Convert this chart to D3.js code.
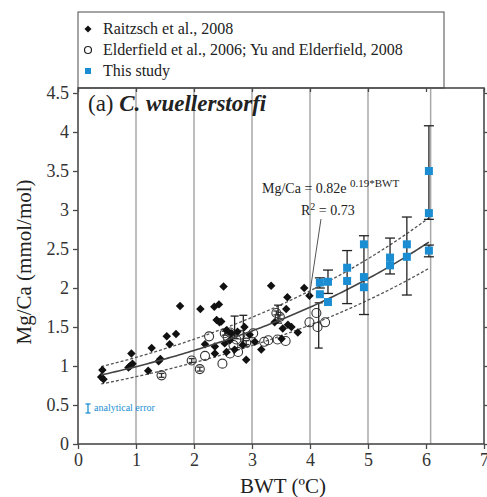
<!DOCTYPE html>
<html lang="en">
<head>
<meta charset="UTF-8">
<title>Mg/Ca vs BWT</title>
<script src="https://cdn.jsdelivr.net/npm/d3@7"></script>
<style>
    body { margin: 0; background: #fff; }
    svg { font-family: "Liberation Serif", "Times New Roman", serif; }
</style>
</head>
<body>
<div id="chart"></div>
<script>
    // Raitzsch et al., 2008 (filled diamonds) [BWT, Mg/Ca]
    const raitzsch = [
        [0.40, 0.86], [0.42, 0.95], [0.44, 0.83], [0.87, 0.98], [0.90, 1.00], [0.92, 1.16],
        [0.94, 1.03], [1.21, 0.94], [1.27, 1.23], [1.39, 1.06], [1.42, 1.09], [1.53, 1.38],
        [1.58, 1.28], [1.69, 1.41], [1.76, 1.77], [2.11, 1.73], [2.19, 1.28], [2.35, 1.76],
        [2.43, 1.79], [2.39, 1.59], [2.44, 1.56], [2.47, 1.57], [2.51, 2.02], [2.36, 1.25],
        [2.36, 1.16], [2.53, 1.29], [2.56, 1.46], [2.64, 1.42], [2.62, 1.33], [2.75, 1.44],
        [2.84, 1.27], [2.96, 1.40], [2.70, 1.21], [2.56, 1.18], [2.87, 1.50], [2.90, 1.08],
        [3.05, 1.31], [3.16, 1.21], [3.33, 2.03], [3.39, 1.56], [3.53, 1.48], [3.59, 1.73],
        [3.61, 1.88], [3.62, 1.53], [3.68, 1.50], [3.79, 1.43], [3.51, 1.35], [3.90, 2.00],
        [3.99, 1.90]
    ];

    // Elderfield et al., 2006; Yu and Elderfield, 2008 (open circles)
    const elderfield = [
        [2.26, 1.38], [2.19, 1.13], [2.49, 1.03], [2.73, 1.34], [2.76, 1.18], [2.62, 1.16],
        [2.68, 1.27], [3.21, 1.31], [3.28, 1.33], [3.44, 1.34], [3.02, 1.42], [3.58, 1.32],
        [4.11, 1.68], [3.99, 1.56], [4.13, 1.50], [4.26, 1.56], [2.80, 1.40], [2.58, 1.37]
    ];
    // open circles carrying a small error bar (drawn as crossed circles)
    const elderfieldErr = [
        [1.44, 0.88], [1.96, 1.07], [2.10, 0.96], [2.53, 1.42], [2.62, 1.43],
        [3.42, 1.68], [3.48, 1.63], [2.90, 1.30]
    ];
    // black error bars [BWT, low, high]
    const blackBars = [
        [2.70, 1.35, 1.64], [2.85, 1.26, 1.65], [3.45, 1.55, 1.78], [4.15, 1.23, 1.81]
    ];

    // This study (blue squares)
    const thisStudy = [
        [4.17, 2.07], [4.17, 1.92], [4.31, 2.08], [4.31, 1.82], [4.64, 2.26], [4.64, 2.09],
        [4.93, 2.56], [4.93, 2.14], [4.93, 2.01], [5.38, 2.39], [5.38, 2.29], [5.67, 2.56],
        [5.67, 2.40], [6.05, 3.50], [6.05, 2.96], [6.05, 2.48]
    ];
    const studyBars = [
        [4.17, 2.00, 2.13], [4.31, 1.93, 2.23], [4.64, 1.80, 2.48], [4.93, 1.66, 2.67],
        [5.38, 2.18, 2.64], [5.67, 1.91, 2.91], [6.05, 2.88, 4.08], [6.05, 2.40, 2.55]
    ];

    // exponential fit Mg/Ca = 0.82 e^(0.19*BWT), with its band
    const fitA = 0.82, fitB = 0.19;
    const fitRange = [0.4, 6.05];
    const bandUpper = 1.12, bandLower = 0.87;

    const xTicks = [0, 1, 2, 3, 4, 5, 6, 7];
    const yTicks = [0, 0.5, 1, 1.5, 2, 2.5, 3, 3.5, 4, 4.5];
    const gridX = [1, 2, 3, 4, 5, 6.08];

    const legendItems = [
        {label: "Raitzsch et al., 2008", type: "diamond"},
        {label: "Elderfield et al., 2006; Yu and Elderfield, 2008", type: "circle"},
        {label: "This study", type: "square"}
    ];

    const width = 487, height = 497;
    const blue = "#1b8ed3", ink = "#222", frameColor = "#4a4a4a";

    const x = d3.scaleLinear().domain([0, 7]).range([78, 484]);
    const y = d3.scaleLinear().domain([0, 4.5]).range([444, 93]);
    const plotTop = 88;

    const svg = d3.select("#chart").append("svg")
        .attr("width", width)
        .attr("height", height)
        .attr("font-family", "Liberation Serif");

    // legend box
    svg.append("rect")
        .attr("x", 78).attr("y", 12)
        .attr("width", 366).attr("height", plotTop - 12)
        .attr("fill", "none").attr("stroke", frameColor).attr("stroke-width", 1);

    const legend = svg.append("g");
    legendItems.forEach((d, i) => {
        const ly = 29 + i * 21;
        if (d.type === "diamond") {
            legend.append("rect").attr("x", -2.5).attr("y", -2.5).attr("width", 5).attr("height", 5)
                .attr("transform", `translate(88,${ly}) rotate(45)`).attr("fill", "#111");
        } else if (d.type === "circle") {
            legend.append("circle").attr("cx", 88).attr("cy", ly).attr("r", 3.5)
                .attr("fill", "none").attr("stroke", "#222").attr("stroke-width", 1.2);
        } else {
            legend.append("rect").attr("x", 85).attr("y", ly - 3).attr("width", 6).attr("height", 6)
                .attr("fill", blue);
        }
        legend.append("text").attr("x", 103).attr("y", ly + 5)
            .attr("font-size", 16).attr("fill", ink).text(d.label);
    });

    // grid lines
    svg.append("g").selectAll("line").data(gridX).join("line")
        .attr("x1", d => x(d)).attr("x2", d => x(d))
        .attr("y1", plotTop).attr("y2", y(0))
        .attr("stroke", "#a8a8a8").attr("stroke-width", 1.5);

    // axes
    const axisBottom = svg.append("g").attr("transform", `translate(0,${y(0)})`)
        .call(d3.axisBottom(x).tickValues(xTicks).tickSize(5).tickPadding(4).tickFormat(d3.format("d")));
    const axisLeft = svg.append("g").attr("transform", `translate(${x(0)},0)`)
        .call(d3.axisLeft(y).tickValues(yTicks).tickSize(5).tickPadding(4).tickFormat(d3.format("~g")));
    const axisTop = svg.append("g").attr("transform", `translate(0,${plotTop})`)
        .call(d3.axisBottom(x).tickValues(xTicks).tickSize(4).tickFormat(""));
    const axisRight = svg.append("g").attr("transform", `translate(${x(7)},0)`)
        .call(d3.axisRight(y).tickValues(yTicks).tickSize(3).tickFormat(""));

    [axisBottom, axisLeft, axisTop, axisRight].forEach(g => {
        g.attr("font-family", "Liberation Serif");
        g.select(".domain").remove();
        g.selectAll(".tick line").attr("stroke", frameColor).attr("stroke-width", 1.3);
        g.selectAll("text").attr("font-size", 18).attr("fill", "#333");
    });

    // frame
    svg.append("rect")
        .attr("x", x(0)).attr("y", plotTop)
        .attr("width", x(7) - x(0)).attr("height", y(0) - plotTop)
        .attr("fill", "none").attr("stroke", frameColor).attr("stroke-width", 1.6);

    // fit + band
    const fitXs = d3.range(fitRange[0], fitRange[1] + 0.001, 0.05);
    const fit = v => fitA * Math.exp(fitB * v);
    const line = d3.line().x(d => x(d[0])).y(d => y(d[1]));
    svg.append("path").datum(fitXs.map(v => [v, fit(v) * bandUpper]))
        .attr("d", line).attr("fill", "none").attr("stroke", "#555")
        .attr("stroke-width", 1.3).attr("stroke-dasharray", "3,2");
    svg.append("path").datum(fitXs.map(v => [v, fit(v) * bandLower]))
        .attr("d", line).attr("fill", "none").attr("stroke", "#555")
        .attr("stroke-width", 1.3).attr("stroke-dasharray", "3,2");

    // error bars
    function bars(data, color, cap) {
        const g = svg.append("g").attr("stroke", color).attr("stroke-width", 1.3);
        data.forEach(d => {
            g.append("line").attr("x1", x(d[0])).attr("x2", x(d[0])).attr("y1", y(d[1])).attr("y2", y(d[2]));
            g.append("line").attr("x1", x(d[0]) - cap).attr("x2", x(d[0]) + cap).attr("y1", y(d[1])).attr("y2", y(d[1]));
            g.append("line").attr("x1", x(d[0]) - cap).attr("x2", x(d[0]) + cap).attr("y1", y(d[2])).attr("y2", y(d[2]));
        });
    }

    // open circles
    svg.append("g").selectAll("circle").data(elderfield.concat(elderfieldErr)).join("circle")
        .attr("cx", d => x(d[0])).attr("cy", d => y(d[1])).attr("r", 4.5)
        .attr("fill", "none").attr("stroke", "#333").attr("stroke-width", 1.1);
    bars(elderfieldErr.map(d => [d[0], d[1] - 0.025, d[1] + 0.025]), "#333", 3);
    bars(blackBars, "#222", 4);

    // diamonds
    svg.append("g").selectAll("rect").data(raitzsch).join("rect")
        .attr("x", -3).attr("y", -3).attr("width", 6).attr("height", 6)
        .attr("transform", d => `translate(${x(d[0])},${y(d[1])}) rotate(45)`)
        .attr("fill", "#111");

    // fit line on top of the scatter
    svg.append("path").datum(fitXs.map(v => [v, fit(v)]))
        .attr("d", line).attr("fill", "none").attr("stroke", "#444").attr("stroke-width", 1.6);

    // this study
    bars(studyBars, "#222", 5);
    svg.append("g").selectAll("rect").data(thisStudy).join("rect")
        .attr("x", d => x(d[0]) - 4).attr("y", d => y(d[1]) - 4)
        .attr("width", 8).attr("height", 8).attr("fill", blue);

    // panel title
    const title = svg.append("text").attr("x", 88).attr("y", 111).attr("font-size", 23).attr("fill", ink);
    title.append("tspan").text("(a) ");
    title.append("tspan").attr("font-weight", "bold").attr("font-style", "italic").text("C. wuellerstorfi");

    // equation
    const eq = svg.append("text").attr("x", 262).attr("y", 193).attr("font-size", 14).attr("fill", ink);
    eq.append("tspan").text("Mg/Ca = 0.82e ");
    eq.append("tspan").attr("dy", -6).attr("font-size", 11).text("0.19*BWT");
    const r2 = svg.append("text").attr("x", 301).attr("y", 215).attr("font-size", 14).attr("fill", ink);
    r2.append("tspan").text("R");
    r2.append("tspan").attr("dy", -5).attr("font-size", 10).text("2");
    r2.append("tspan").attr("dy", 5).text(" = 0.73");
    svg.append("line").attr("x1", 321).attr("y1", 219).attr("x2", x(3.99)).attr("y2", y(1.9))
        .attr("stroke", "#555").attr("stroke-width", 1);

    // analytical error
    const ae = svg.append("g").attr("stroke", blue).attr("stroke-width", 1.3);
    ae.append("line").attr("x1", 88).attr("x2", 88).attr("y1", 404).attr("y2", 413);
    ae.append("line").attr("x1", 85.5).attr("x2", 90.5).attr("y1", 404).attr("y2", 404);
    ae.append("line").attr("x1", 85.5).attr("x2", 90.5).attr("y1", 413).attr("y2", 413);
    svg.append("text").attr("x", 94).attr("y", 411).attr("font-size", 10).attr("fill", blue)
        .text("analytical error");

    // axis titles
    svg.append("text").attr("x", 283).attr("y", 493).attr("text-anchor", "middle")
        .attr("font-size", 21).attr("fill", ink).text("BWT (ºC)");
    svg.append("text").attr("transform", "translate(31,262) rotate(-90)").attr("text-anchor", "middle")
        .attr("font-size", 21).attr("fill", ink).text("Mg/Ca (mmol/mol)");
</script>
</body>
</html>
